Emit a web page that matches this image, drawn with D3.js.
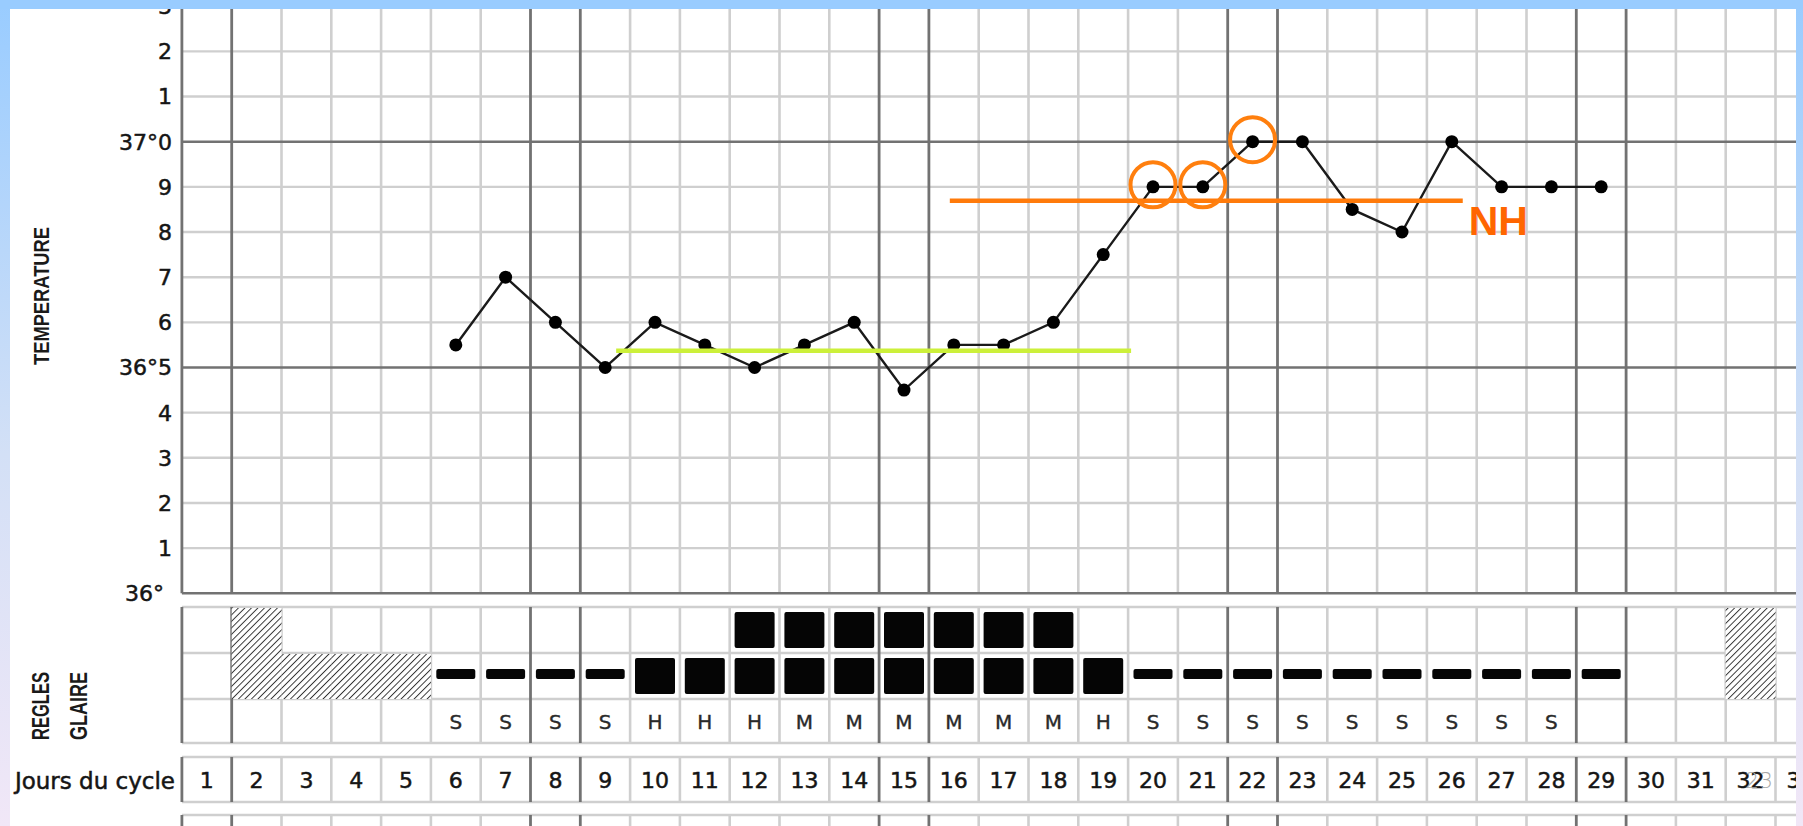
<!DOCTYPE html>
<html><head><meta charset="utf-8">
<script src="https://cdn.jsdelivr.net/npm/d3@7"></script>
<style>html,body{margin:0;padding:0;background:#fff;overflow:hidden}</style>
</head><body>
<svg id="c" width="1803" height="826"></svg>
<script>
// ---------- DATA ----------
const days = d3.range(1, 34);                       // cycle days 1..33
const dayLabels = days.map(String);
const tempDays   = [6,7,8,9,10,11,12,13,14,15,16,17,18,19,20,21,22,23,24,25,26,27,28,29];
const tempValues = [36.55,36.7,36.6,36.5,36.6,36.55,36.5,36.55,36.6,36.45,36.55,36.55,36.6,36.75,36.9,36.9,37.0,37.0,36.85,36.8,37.0,36.9,36.9,36.9];
const tempTicks      = [36.0,36.1,36.2,36.3,36.4,36.5,36.6,36.7,36.8,36.9,37.0,37.1,37.2,37.3];
const tempTickLabels = ["36°","1","2","3","4","36°5","6","7","8","9","37°0","1","2","3"];
const majorTemps = [36.0, 36.5, 37.0];
const majorBoundaries = [0.5,1.5,7.5,8.5,14.5,15.5,21.5,22.5,28.5,29.5];
const glaireDays   = [6,7,8,9,10,11,12,13,14,15,16,17,18,19,20,21,22,23,24,25,26,27,28,29];
const glaireLevels = [0,0,0,0,1,1,2,2,2,2,2,2,2,1,0,0,0,0,0,0,0,0,0,0];
const letterDays = [6,7,8,9,10,11,12,13,14,15,16,17,18,19,20,21,22,23,24,25,26,27,28];
const letters    = ["S","S","S","S","H","H","H","M","M","M","M","M","M","H","S","S","S","S","S","S","S","S","S"];
const reglesDays   = [2,3,4,5,32];
const reglesLevels = [2,1,1,1,2];
const circledDays = [20,21,22];
const coverLine = [9.22, 19.56, 36.537];   // start day, end day, temperature
const nhLine    = [15.92, 26.22, 36.869];
const nhLabel = "NH";
const pageNumber = "23";

// ---------- SCALES ----------
const svg = d3.select("#c");
const x = d3.scaleLinear().domain([0.5, 33.5]).range([181.9, 1825.3]);
const y = d3.scaleLinear().domain([36, 37]).range([593.3, 141.7]);
const rows = {glTop:607, gl1:653, gl2:699, glBot:743, dTop:757, dBot:802, nTop:815};
const LIGHT = "#cfcfcf", DARK = "#727272", INK = "#151515";
const boundaries = d3.range(0.5, 34, 1);

svg.append("rect").attr("width",1803).attr("height",826).attr("fill","#fff");

const defs = svg.append("defs");
const pat = defs.append("pattern").attr("id","hatch").attr("patternUnits","userSpaceOnUse")
  .attr("width",4.6).attr("height",4.6).attr("patternTransform","rotate(45)");
pat.append("rect").attr("width",4.6).attr("height",4.6).attr("fill","#fff");
pat.append("line").attr("x1",0).attr("y1",0).attr("x2",0).attr("y2",4.6).attr("stroke","#333").attr("stroke-width",1.9);
const lg = defs.append("linearGradient").attr("id","side").attr("x1",0).attr("y1",0).attr("x2",0).attr("y2",1);
lg.append("stop").attr("offset","0%").attr("stop-color","#99ccff");
lg.append("stop").attr("offset","55%").attr("stop-color","#d3e0f6");
lg.append("stop").attr("offset","100%").attr("stop-color","#f1e7f7");

// ---------- GRID ----------
const g = svg.append("g");
function vlines(y0, y1) {
  g.append("g").selectAll("line").data(boundaries.filter(b => !majorBoundaries.includes(b))).join("line")
    .attr("x1", d => x(d)).attr("x2", d => x(d)).attr("y1", y0).attr("y2", y1)
    .attr("stroke", LIGHT).attr("stroke-width", 2.6);
}
function vmajor(y0, y1) {
  g.append("g").selectAll("line").data(majorBoundaries).join("line")
    .attr("x1", d => x(d)).attr("x2", d => x(d)).attr("y1", y0).attr("y2", y1)
    .attr("stroke", DARK).attr("stroke-width", 2.8);
}
function hline(yy, col, w) {
  g.append("line").attr("x1", x(0.5)).attr("x2", 1800).attr("y1", yy).attr("y2", yy)
    .attr("stroke", col).attr("stroke-width", w);
}
vlines(0, y(36));
tempTicks.filter(t => !majorTemps.includes(t)).forEach(t => hline(y(t), LIGHT, 2.4));
vmajor(0, y(36));
majorTemps.forEach(t => hline(y(t), DARK, 2.6));

[rows.glTop, rows.gl1, rows.gl2, rows.glBot].forEach(r => hline(r, LIGHT, 2.4));
vlines(rows.glTop, rows.glBot);
vmajor(rows.glTop, rows.glBot);
[rows.dTop, rows.dBot].forEach(r => hline(r, LIGHT, 2.4));
vlines(rows.dTop, rows.dBot);
vmajor(rows.dTop, rows.dBot);
hline(rows.nTop, LIGHT, 2.4);
vlines(rows.nTop, 826);
vmajor(rows.nTop, 826);

// ---------- REGLES (hatch) ----------
svg.append("g").selectAll("rect").data(reglesDays.map((d,i)=>({d, l:reglesLevels[i]}))).join("rect")
  .attr("x", d => x(d.d - 0.5)).attr("width", d => x(d.d + 0.5) - x(d.d - 0.5))
  .attr("y", d => d.l === 2 ? rows.glTop + 1 : rows.gl1 + 1)
  .attr("height", d => rows.gl2 - (d.l === 2 ? rows.glTop + 1 : rows.gl1 + 1))
  .attr("fill", "url(#hatch)");

// ---------- GLAIRE ----------
const gl = glaireDays.map((d,i)=>({d, l:glaireLevels[i]}));
const sqW = 40, sqH = 36;
const sq = [];
gl.forEach(o => { if (o.l >= 1) sq.push({d:o.d, row:1}); if (o.l >= 2) sq.push({d:o.d, row:0}); });
svg.append("g").selectAll("rect").data(sq).join("rect")
  .attr("x", d => x(d.d) - sqW/2).attr("width", sqW)
  .attr("y", d => (d.row === 0 ? (rows.glTop + rows.gl1)/2 : (rows.gl1 + rows.gl2)/2) - sqH/2)
  .attr("height", sqH).attr("rx", 2).attr("fill", "#050505");
svg.append("g").selectAll("rect").data(gl.filter(o => o.l === 0)).join("rect")
  .attr("x", d => x(d.d) - 19.5).attr("width", 39).attr("y", 669).attr("height", 10)
  .attr("rx", 2).attr("fill", "#050505");
svg.append("g").selectAll("text").data(letterDays.map((d,i)=>({d, t:letters[i]}))).join("text")
  .attr("x", d => x(d.d)).attr("y", (rows.gl2 + rows.glBot)/2 + 1).attr("dy", "0.36em")
  .attr("text-anchor", "middle").attr("font-family", "DejaVu Sans, sans-serif").attr("font-size", 20)
  .attr("fill", "#2a2a2a").attr("stroke", "#2a2a2a").attr("stroke-width", 0.4).text(d => d.t);

// ---------- DAY LABELS ----------
svg.append("g").selectAll("text").data(days).join("text")
  .attr("x", d => x(d)).attr("y", (rows.dTop + rows.dBot)/2 + 1).attr("dy", "0.36em")
  .attr("text-anchor", "middle").attr("font-family", "DejaVu Sans, sans-serif").attr("font-size", 22)
  .attr("fill", INK).attr("stroke", INK).attr("stroke-width", 0.5).text((d,i) => dayLabels[i]);
svg.append("text").attr("x", 175).attr("y", (rows.dTop + rows.dBot)/2 + 1).attr("dy", "0.36em")
  .attr("text-anchor", "end").attr("font-family", "DejaVu Sans, sans-serif").attr("font-size", 23)
  .attr("fill", INK).attr("stroke", INK).attr("stroke-width", 0.5).text("Jours du cycle");
svg.append("text").attr("x", 1745).attr("y", (rows.dTop + rows.dBot)/2 + 1).attr("dy", "0.36em")
  .attr("font-family", "DejaVu Sans, sans-serif").attr("font-size", 22).attr("font-weight", 300)
  .attr("fill", "#a8a8a8").text(pageNumber);

// ---------- Y AXIS LABELS ----------
svg.append("g").selectAll("text").data(tempTicks.map((t,i)=>({t, s:tempTickLabels[i]}))).join("text")
  .attr("x", d => d.t === 36 ? 164 : 172).attr("y", d => y(d.t)).attr("dy", "0.36em")
  .attr("text-anchor", "end").attr("font-family", "DejaVu Sans, sans-serif").attr("font-size", 22)
  .attr("fill", INK).attr("stroke", INK).attr("stroke-width", 0.5).text(d => d.s);

function vlabel(txt, cx, cy, len, fs) {
  svg.append("text").attr("transform", `translate(${cx},${cy}) rotate(-90)`)
    .attr("text-anchor", "middle").attr("dy", "0.36em")
    .attr("font-family", "Liberation Sans, Arial, sans-serif").attr("font-weight", "bold")
    .attr("font-size", fs).attr("textLength", len).attr("lengthAdjust", "spacingAndGlyphs")
    .attr("fill", "#1a1a1a").text(txt);
}
vlabel("TEMPERATURE", 41, 296, 138, 22);
vlabel("REGLES", 40, 706, 68, 24);
vlabel("GLAIRE", 78, 706, 68, 24);

// ---------- TEMPERATURE CURVE ----------
const pts = tempDays.map((d,i)=>({d, v:tempValues[i]}));
svg.append("path").datum(pts)
  .attr("d", d3.line().x(d => x(d.d)).y(d => y(d.v)))
  .attr("fill", "none").attr("stroke", "#1a1a1a").attr("stroke-width", 2.4);
svg.append("g").selectAll("circle").data(pts).join("circle")
  .attr("cx", d => x(d.d)).attr("cy", d => y(d.v)).attr("r", 6.5).attr("fill", "#000");

// ---------- ANNOTATIONS ----------
svg.append("line").attr("x1", x(coverLine[0])).attr("x2", x(coverLine[1]))
  .attr("y1", y(coverLine[2])).attr("y2", y(coverLine[2]))
  .attr("stroke", "#ccf03a").attr("stroke-width", 4.5);
svg.append("line").attr("x1", x(nhLine[0])).attr("x2", x(nhLine[1]))
  .attr("y1", y(nhLine[2])).attr("y2", y(nhLine[2]))
  .attr("stroke", "#ff7a0a").attr("stroke-width", 4.5);
svg.append("text").attr("x", x(nhLine[1]) + 6).attr("y", y(nhLine[2]) + 34)
  .attr("font-family", "Liberation Sans, Arial, sans-serif").attr("font-weight", "bold")
  .attr("font-size", 41).attr("fill", "#ff6600").text(nhLabel);
svg.append("g").selectAll("circle").data(pts.filter(p => circledDays.includes(p.d))).join("circle")
  .attr("cx", d => x(d.d)).attr("cy", d => y(d.v) - 2).attr("r", 22.5)
  .attr("fill", "none").attr("stroke", "#ff7f0e").attr("stroke-width", 4);

// ---------- FRAME ----------
svg.append("rect").attr("x", 0).attr("y", 0).attr("width", 10).attr("height", 826).attr("fill", "url(#side)");
svg.append("rect").attr("x", 1796).attr("y", 0).attr("width", 7).attr("height", 826).attr("fill", "url(#side)");
svg.append("rect").attr("x", 0).attr("y", 0).attr("width", 1803).attr("height", 9).attr("fill", "#99ccff");
</script>
</body></html>
